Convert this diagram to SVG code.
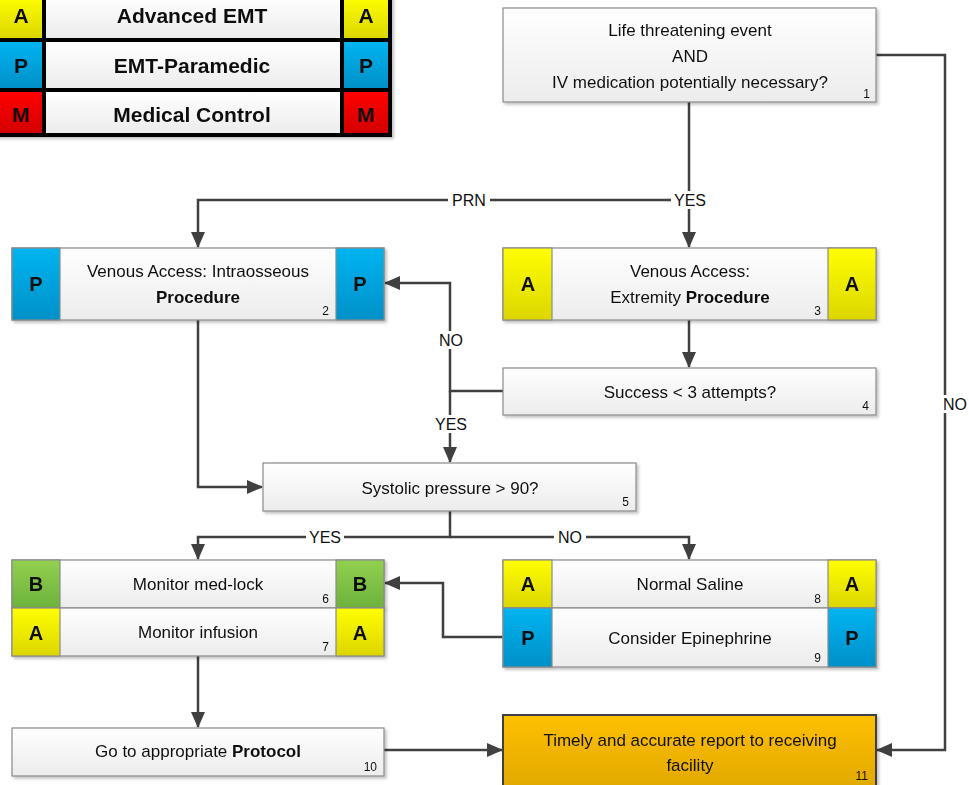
<svg xmlns="http://www.w3.org/2000/svg" width="969" height="785" viewBox="0 0 969 785">
  <defs>
    <linearGradient id="gBody" x1="0" y1="0" x2="0" y2="1">
      <stop offset="0" stop-color="#ffffff"/>
      <stop offset="1" stop-color="#ececec"/>
    </linearGradient>
    <linearGradient id="gYellow" x1="0" y1="0" x2="0" y2="1">
      <stop offset="0" stop-color="#ffff00"/>
      <stop offset="1" stop-color="#dcd600"/>
    </linearGradient>
    <linearGradient id="gBlue" x1="0" y1="0" x2="0" y2="1">
      <stop offset="0" stop-color="#00b4f0"/>
      <stop offset="1" stop-color="#0090c8"/>
    </linearGradient>
    <linearGradient id="gGreen" x1="0" y1="0" x2="0" y2="1">
      <stop offset="0" stop-color="#92d050"/>
      <stop offset="1" stop-color="#6cb23c"/>
    </linearGradient>
    <linearGradient id="gRed" x1="0" y1="0" x2="0" y2="1">
      <stop offset="0" stop-color="#ff0000"/>
      <stop offset="1" stop-color="#d40000"/>
    </linearGradient>
    <linearGradient id="gOrange" x1="0" y1="0" x2="0" y2="1">
      <stop offset="0" stop-color="#ffc000"/>
      <stop offset="1" stop-color="#e0a800"/>
    </linearGradient>
    <filter id="shadow" x="-5%" y="-10%" width="112%" height="130%">
      <feDropShadow dx="2" dy="2" stdDeviation="1.5" flood-color="#000" flood-opacity="0.25"/>
    </filter>
    <marker id="arrow" viewBox="0 0 16 14" refX="15" refY="7" markerWidth="16" markerHeight="14" markerUnits="userSpaceOnUse" orient="auto">
      <path d="M0,0 L16,7 L0,14 z" fill="#404040"/>
    </marker>
    <style>
      text { font-family: "Liberation Sans", Arial, sans-serif; fill: #111; }
      .body { fill: url(#gBody); stroke: #8a8a8a; stroke-width: 1.2; }
      .y { fill: url(#gYellow); stroke: #8a8a8a; stroke-width: 1.2; }
      .b { fill: url(#gBlue); stroke: #8a8a8a; stroke-width: 1.2; }
      .g { fill: url(#gGreen); stroke: #8a8a8a; stroke-width: 1.2; }
      .lbl { font-size: 17px; text-anchor: middle; }
      .num { font-size: 12px; text-anchor: end; }
      .badge { font-size: 20px; font-weight: bold; text-anchor: middle; }
      .conn { fill: none; stroke: #404040; stroke-width: 2.5; }
      .clbl { font-size: 16px; text-anchor: middle; }
      .lgtxt { font-size: 21px; font-weight: bold; text-anchor: middle; }
    </style>
  </defs>

  <!-- legend -->
  <g id="legend" filter="url(#shadow)">
    <rect x="-4" y="-6" width="396" height="143" fill="#000"/>
    <rect x="0" y="-4" width="42" height="42" fill="url(#gYellow)"/>
    <rect x="46" y="-4" width="294" height="42" fill="url(#gBody)"/>
    <rect x="344" y="-4" width="44" height="42" fill="url(#gYellow)"/>
    <rect x="0" y="42" width="42" height="46" fill="url(#gBlue)"/>
    <rect x="46" y="42" width="294" height="46" fill="url(#gBody)"/>
    <rect x="344" y="42" width="44" height="46" fill="url(#gBlue)"/>
    <rect x="0" y="92" width="42" height="41" fill="url(#gRed)"/>
    <rect x="46" y="92" width="294" height="41" fill="url(#gBody)"/>
    <rect x="344" y="92" width="44" height="41" fill="url(#gRed)"/>
    <text class="lgtxt" x="21" y="23">A</text>
    <text class="lgtxt" x="192" y="23">Advanced EMT</text>
    <text class="lgtxt" x="366" y="23">A</text>
    <text class="lgtxt" x="21" y="73">P</text>
    <text class="lgtxt" x="192" y="73">EMT-Paramedic</text>
    <text class="lgtxt" x="366" y="73">P</text>
    <text class="lgtxt" x="21" y="122">M</text>
    <text class="lgtxt" x="192" y="122">Medical Control</text>
    <text class="lgtxt" x="366" y="122">M</text>
  </g>

  <!-- connectors -->
  <g id="connectors">
    <path class="conn" d="M689,102 V200 H198 V247" marker-end="url(#arrow)"/>
    <path class="conn" d="M689,200 V247" marker-end="url(#arrow)"/>
    <path class="conn" d="M876,55 H945 V750 H877" marker-end="url(#arrow)"/>
    <path class="conn" d="M689,320 V367" marker-end="url(#arrow)"/>
    <path class="conn" d="M503,391 H450 V283 H385" marker-end="url(#arrow)"/>
    <path class="conn" d="M450,391 V462" marker-end="url(#arrow)"/>
    <path class="conn" d="M198,320 V487 H262" marker-end="url(#arrow)"/>
    <path class="conn" d="M450,511 V537 H198 V559" marker-end="url(#arrow)"/>
    <path class="conn" d="M450,537 H689 V559" marker-end="url(#arrow)"/>
    <path class="conn" d="M503,637 H443 V583 H385" marker-end="url(#arrow)"/>
    <path class="conn" d="M198,656 V727" marker-end="url(#arrow)"/>
    <path class="conn" d="M384,750 H502" marker-end="url(#arrow)"/>
    <!-- connector labels on white backing -->
    <rect x="448" y="191" width="42" height="18" fill="#fff"/>
    <text class="clbl" x="469" y="206">PRN</text>
    <rect x="671" y="191" width="38" height="18" fill="#fff"/>
    <text class="clbl" x="690" y="206">YES</text>
    <rect x="435" y="331" width="32" height="18" fill="#fff"/>
    <text class="clbl" x="451" y="346">NO</text>
    <rect x="432" y="415" width="38" height="18" fill="#fff"/>
    <text class="clbl" x="451" y="430">YES</text>
    <rect x="306" y="528" width="38" height="18" fill="#fff"/>
    <text class="clbl" x="325" y="543">YES</text>
    <rect x="554" y="528" width="32" height="18" fill="#fff"/>
    <text class="clbl" x="570" y="543">NO</text>
    <rect x="941" y="395" width="28" height="18" fill="#fff"/>
    <text class="clbl" x="955" y="410">NO</text>
  </g>

  <!-- 1 -->
  <g id="n1" filter="url(#shadow)">
    <rect class="body" x="503" y="8" width="373" height="94"/>
    <text class="lbl" x="690" y="36">Life threatening event</text>
    <text class="lbl" x="690" y="62">AND</text>
    <text class="lbl" x="690" y="88">IV medication potentially necessary?</text>
    <text class="num" x="870" y="98">1</text>
  </g>

  <!-- 2 -->
  <g id="n2" filter="url(#shadow)">
    <rect class="body" x="12" y="248" width="372" height="72"/>
    <rect class="b" x="12" y="248" width="48" height="72"/>
    <rect class="b" x="336" y="248" width="48" height="72"/>
    <text class="badge" x="36" y="291">P</text>
    <text class="badge" x="360" y="291">P</text>
    <text class="lbl" x="198" y="277">Venous Access: Intraosseous</text>
    <text class="lbl" x="198" y="303" font-weight="bold">Procedure</text>
    <text class="num" x="329" y="315">2</text>
  </g>

  <!-- 3 -->
  <g id="n3" filter="url(#shadow)">
    <rect class="body" x="503" y="248" width="373" height="72"/>
    <rect class="y" x="503" y="248" width="49" height="72"/>
    <rect class="y" x="828" y="248" width="48" height="72"/>
    <text class="badge" x="528" y="291">A</text>
    <text class="badge" x="852" y="291">A</text>
    <text class="lbl" x="690" y="277">Venous Access:</text>
    <text class="lbl" x="690" y="303">Extremity <tspan font-weight="bold">Procedure</tspan></text>
    <text class="num" x="821" y="315">3</text>
  </g>

  <!-- 4 -->
  <g id="n4" filter="url(#shadow)">
    <rect class="body" x="503" y="368" width="373" height="47"/>
    <text class="lbl" x="690" y="398">Success &lt; 3 attempts?</text>
    <text class="num" x="869" y="410">4</text>
  </g>

  <!-- 5 -->
  <g id="n5" filter="url(#shadow)">
    <rect class="body" x="263" y="463" width="373" height="48"/>
    <text class="lbl" x="450" y="494">Systolic pressure &gt; 90?</text>
    <text class="num" x="629" y="506">5</text>
  </g>

  <!-- 6 / 7 -->
  <g id="n6" filter="url(#shadow)">
    <rect class="body" x="12" y="560" width="372" height="48"/>
    <rect class="g" x="12" y="560" width="48" height="48"/>
    <rect class="g" x="336" y="560" width="48" height="48"/>
    <text class="badge" x="36" y="591">B</text>
    <text class="badge" x="360" y="591">B</text>
    <text class="lbl" x="198" y="590">Monitor med-lock</text>
    <text class="num" x="329" y="603">6</text>
  </g>
  <g id="n7" filter="url(#shadow)">
    <rect class="body" x="12" y="608" width="372" height="48"/>
    <rect class="y" x="12" y="608" width="48" height="48"/>
    <rect class="y" x="336" y="608" width="48" height="48"/>
    <text class="badge" x="36" y="640">A</text>
    <text class="badge" x="360" y="640">A</text>
    <text class="lbl" x="198" y="638">Monitor infusion</text>
    <text class="num" x="329" y="651">7</text>
  </g>

  <!-- 8 / 9 -->
  <g id="n8" filter="url(#shadow)">
    <rect class="body" x="503" y="560" width="373" height="48"/>
    <rect class="y" x="503" y="560" width="49" height="48"/>
    <rect class="y" x="828" y="560" width="48" height="48"/>
    <text class="badge" x="528" y="591">A</text>
    <text class="badge" x="852" y="591">A</text>
    <text class="lbl" x="690" y="590">Normal Saline</text>
    <text class="num" x="821" y="603">8</text>
  </g>
  <g id="n9" filter="url(#shadow)">
    <rect class="body" x="503" y="608" width="373" height="59"/>
    <rect class="b" x="503" y="608" width="49" height="59"/>
    <rect class="b" x="828" y="608" width="48" height="59"/>
    <text class="badge" x="528" y="645">P</text>
    <text class="badge" x="852" y="645">P</text>
    <text class="lbl" x="690" y="644">Consider Epinephrine</text>
    <text class="num" x="821" y="662">9</text>
  </g>

  <!-- 10 -->
  <g id="n10" filter="url(#shadow)">
    <rect class="body" x="12" y="728" width="372" height="48"/>
    <text class="lbl" x="198" y="757">Go to appropriate <tspan font-weight="bold">Protocol</tspan></text>
    <text class="num" x="377" y="771">10</text>
  </g>

  <!-- 11 -->
  <g id="n11" filter="url(#shadow)">
    <rect x="503" y="715" width="373" height="75" fill="url(#gOrange)" stroke="#404040" stroke-width="2"/>
    <text class="lbl" x="690" y="746">Timely and accurate report to receiving</text>
    <text class="lbl" x="690" y="771">facility</text>
    <text class="num" x="868" y="780">11</text>
  </g>
</svg>
